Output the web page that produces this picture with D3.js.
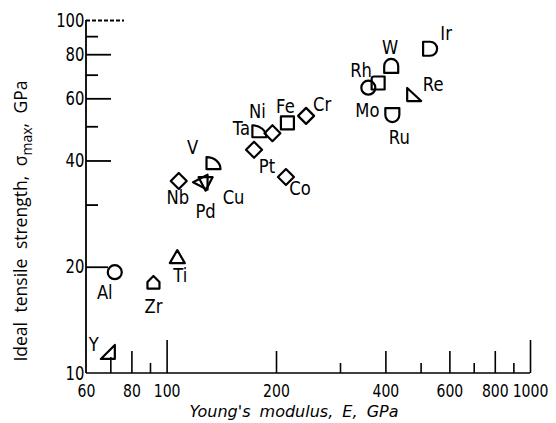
<!DOCTYPE html>
<html>
<head>
<meta charset="utf-8">
<script src="https://cdn.jsdelivr.net/npm/d3@7"></script>
<style>
  body { margin: 0; background: #fff; }
  .narrow { font-family: "DejaVu Sans", sans-serif; }
</style>
</head>
<body>
<div id="chart"></div>
<script>
// element data (E in GPa, ideal strength in GPa)
var elements = ['Y', 'Al', 'Zr', 'Ti', 'Nb', 'V', 'Pd', 'Cu', 'Ta', 'Ni', 'Pt', 'Co', 'Fe', 'Cr', 'Mo', 'Rh', 'W', 'Ru', 'Re', 'Ir'];
var modulus = [68.9, 72, 92, 107, 108, 134.6, 124, 128, 180, 195.5, 174, 213, 215, 242, 359, 382, 415, 418, 477, 531];
var strength = [11.4, 19.3, 18.1, 21.3, 35.0, 39.3, 34.7, 34.5, 48.4, 47.8, 42.9, 35.9, 51.1, 53.5, 64.3, 66.3, 74.1, 53.8, 61.3, 82.9];
var symbols = ['triBR', 'circle', 'house', 'triUp', 'diamond', 'quarter', 'triLeft', 'triDown', 'quarter', 'diamond', 'diamond', 'diamond', 'square', 'diamond', 'circle', 'rsquare', 'dome', 'cup', 'triBL', 'dRight'];

var xTickLabels = [60, 80, 100, 200, 400, 600, 800, 1000];
var yTickLabels = [10, 20, 40, 60, 80, 100];

// label offsets from the marker (layout only)
var labelOffset = {
    Y: [-14, -9], Al: [-10, 20], Zr: [0, 24], Ti: [3, 18], Nb: [-1, 16],
    V: [-21, -16], Pd: [5, 29], Cu: [28, 14], Ta: [-18, -3], Ni: [-15, -22],
    Pt: [13, 16], Co: [14, 11], Fe: [-2, -17], Cr: [16, -12], Mo: [-1, 22],
    Rh: [-17, -13], W: [-1, -19], Ru: [7, 22], Re: [20, -11], Ir: [16, -16]
};

var width = 556, height = 423;
var svg = d3.select('#chart').append('svg')
    .attr('width', width)
    .attr('height', height);

var x = d3.scaleLog().domain([60, 1000]).range([86, 530]);
var y = d3.scaleLog().domain([10, 100]).range([373, 20]);
var base = y(10), left = x(60);

// axis lines
svg.append('line')
    .attr('x1', left).attr('x2', x(1000))
    .attr('y1', base).attr('y2', base)
    .attr('stroke', '#000').attr('stroke-width', 1.6);
svg.append('line')
    .attr('x1', left).attr('x2', left)
    .attr('y1', y(100)).attr('y2', base)
    .attr('stroke', '#000').attr('stroke-width', 1.8);

// x ticks go upward, different lengths
function xTicks(vals, len) {
    var g = svg.append('g')
        .attr('transform', 'translate(0,' + base + ')')
        .call(d3.axisBottom(x).tickValues(vals).tickSize(-len).tickFormat(''));
    g.select('.domain').remove();
    g.selectAll('line').attr('stroke', '#000').attr('stroke-width', 1.6);
}
xTicks([100, 1000], 33);
xTicks([80, 200, 400, 600, 800], 22);
xTicks([70], 16);
xTicks([90, 300, 500, 700, 900], 10);

// y ticks go right
function yTicks(vals, len, dash) {
    var g = svg.append('g')
        .attr('transform', 'translate(' + left + ',0)')
        .call(d3.axisLeft(y).tickValues(vals).tickSize(-len).tickFormat(''));
    g.select('.domain').remove();
    g.selectAll('line').attr('stroke', '#000').attr('stroke-width', 1.8)
        .attr('stroke-dasharray', dash || null);
}
yTicks([100], 38, '4,2');
yTicks([40, 60, 80], 25);
yTicks([20], 22);
yTicks([30, 50, 70, 90], 12);

// tick labels (squeezed horizontally, the original uses a narrow face)
var xl = svg.append('g')
    .attr('class', 'narrow')
    .attr('transform', 'translate(0,' + base + ')')
    .call(d3.axisBottom(x).tickValues(xTickLabels).tickSize(0).tickPadding(11).tickFormat(d3.format('d')));
xl.select('.domain').remove();
xl.selectAll('text').attr('font-size', 18).attr('font-family', null).attr('fill', '#000')
    .attr('transform', 'scale(0.78,1)');

var yl = svg.append('g')
    .attr('class', 'narrow')
    .attr('transform', 'translate(' + left + ',0)')
    .call(d3.axisLeft(y).tickValues(yTickLabels).tickSize(0).tickPadding(2).tickFormat(d3.format('d')));
yl.select('.domain').remove();
yl.selectAll('text').attr('font-size', 19).attr('font-family', null).attr('fill', '#000')
    .attr('transform', 'scale(0.78,1)');

// marker shapes, centred on 0,0
var shapes = {
    circle: 'M7,0A7,7 0 1 1 -7,0A7,7 0 1 1 7,0Z',
    square: 'M-6.5,-6.5H6.5V6.5H-6.5Z',
    rsquare: 'M-4,-6.5H6.5V6.5H-6.5V-4Q-6.5,-6.5 -4,-6.5Z',
    diamond: 'M0,-8L8,0L0,8L-8,0Z',
    triUp: 'M-7.5,6L0,-7L7.5,6Z',
    triDown: 'M-7,-6H7L0,7.5Z',
    triLeft: 'M7,-7.5V7.5L-7.5,0Z',
    triBR: 'M-7,6H7V-8Z',
    triBL: 'M-6,-7V6H8Z',
    house: 'M-6,6.5V0L0,-6L6,0V6.5Z',
    quarter: 'M-7,-6V6H7A14,12 0 0 0 -7,-6Z',
    dome: 'M-7,7V0A7,7 0 0 1 7,0V7Z',
    cup: 'M-7,-7H7V0A7,7 0 0 1 -7,0Z',
    dRight: 'M-7,-7H0A7,7 0 0 1 0,7H-7Z'
};

var points = elements.map(function(el, i) {
    return {name: el, E: modulus[i], s: strength[i], shape: symbols[i]};
});

svg.append('g').selectAll('path')
    .data(points)
    .join('path')
    .attr('d', d => shapes[d.shape])
    .attr('transform', d => 'translate(' + x(d.E) + ',' + y(d.s) + ')')
    .attr('fill', 'none')
    .attr('stroke', '#000')
    .attr('stroke-width', 2.2)
    .attr('stroke-linejoin', 'round');

svg.append('g').attr('class', 'narrow').selectAll('text')
    .data(points)
    .join('text')
    .attr('transform', d => 'translate(' + (x(d.E) + labelOffset[d.name][0]) + ','
        + (y(d.s) + labelOffset[d.name][1]) + ') scale(0.82,1)')
    .attr('dy', '0.36em')
    .attr('text-anchor', 'middle')
    .attr('font-size', 20)
    .text(d => d.name);

// axis titles
svg.append('text')
    .attr('x', 294)
    .attr('y', 417)
    .attr('text-anchor', 'middle')
    .attr('font-family', '"DejaVu Sans", sans-serif')
    .attr('font-style', 'italic')
    .attr('font-size', 16)
    .attr('word-spacing', 4)
    .text("Young's modulus, E, GPa");

var yt = svg.append('text')
    .attr('transform', 'translate(27,221) rotate(-90)')
    .attr('text-anchor', 'middle')
    .attr('font-family', '"Open Sans", sans-serif')
    .attr('font-size', 17.5)
    .attr('word-spacing', 5);
yt.append('tspan').text('Ideal tensile strength, \u03c3');
yt.append('tspan').attr('font-size', 14).attr('dy', 5).text('max');
yt.append('tspan').attr('dy', -5).text(', GPa');
</script>
</body>
</html>
